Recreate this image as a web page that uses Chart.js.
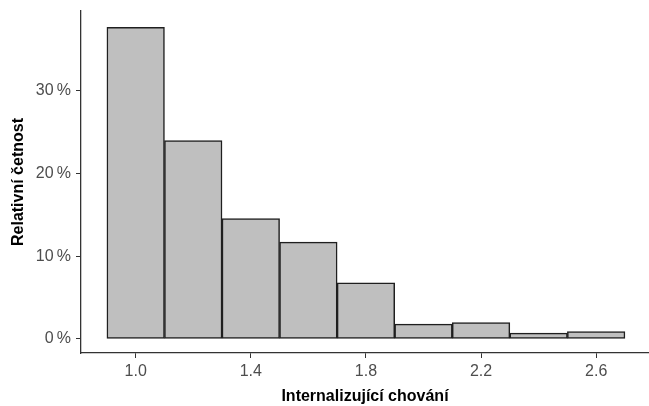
<!DOCTYPE html>
<html>
<head>
<meta charset="utf-8">
<script src="https://cdn.jsdelivr.net/npm/chart.js@4"></script>
<style>
	body { margin: 0; background: #fff; }
	#wrap { width: 649px; height: 406px; position: relative; }
</style>
</head>
<body>
<div id="wrap"><canvas id="hist"></canvas></div>
<script>
// Histogram bins (width 0.2) and relative frequency in percent.
const binCenters = [ 1.0, 1.2, 1.4, 1.6, 1.8, 2.0, 2.2, 2.4, 2.6 ];
const relFreq = [ 37.7, 24.0, 14.55, 11.7, 6.8, 1.8, 1.97, 0.7, 0.88 ];
const xTicks = [ 1.0, 1.4, 1.8, 2.2, 2.6 ];
const yTicks = [ 0, 10, 20, 30 ];

const font = "'Liberation Sans', Arial, sans-serif";

const ctx = document.getElementById( 'hist' );

new Chart( ctx, {
	type: 'bar',
	data: {
		datasets: [
			{
				data: binCenters.map( ( x, i ) => {
					return { x: x, y: relFreq[ i ] };
				} ),
				backgroundColor: '#bfbfbf',
				borderColor: '#1f1f1f',
				borderWidth: 1.5,
				borderSkipped: false,
				barPercentage: 1,
				categoryPercentage: 1,
			}
		],
	},
	options: {
		responsive: true,
		maintainAspectRatio: false,
		animation: false,
		layout: {
			padding: { top: 11, right: 0, left: 0, bottom: 0 },
		},
		plugins: {
			legend: { display: false },
			tooltip: { enabled: false },
		},
		scales: {
			x: {
				type: 'linear',
				min: 0.81,
				max: 2.7836,
				offset: false,
				afterBuildTicks: ( scale ) => {
					scale.ticks = xTicks.map( ( v ) => ( { value: v } ) );
				},
				afterFit: ( scale ) => {
					scale.height = 53;
					scale.paddingLeft = 0;
					scale.paddingRight = 0;
				},
				ticks: {
					font: { family: font, size: 16 },
					color: '#4d4d4d',
					padding: 4,
					callback: ( v ) => Number( v ).toFixed( 1 ),
				},
				grid: {
					offset: false,
					drawOnChartArea: false,
					drawTicks: true,
					tickLength: 5,
					tickColor: '#333',
				},
				border: { color: '#333', width: 1.3 },
				title: {
					display: true,
					text: 'Internalizující chování',
					font: { family: font, size: 16, weight: 'bold' },
					color: '#000',
					padding: { top: 0, bottom: 0 },
				},
			},
			y: {
				min: -1.7,
				max: 39.66,
				afterBuildTicks: ( scale ) => {
					scale.ticks = yTicks.map( ( v ) => ( { value: v } ) );
				},
				afterFit: ( scale ) => {
					scale.width = 81;
					scale.paddingTop = 0;
					scale.paddingBottom = 0;
				},
				ticks: {
					font: { family: font, size: 16 },
					color: '#4d4d4d',
					padding: 5,
					callback: ( v ) => v + '\u2009%',
				},
				grid: {
					drawOnChartArea: false,
					drawTicks: true,
					tickLength: 5,
					tickColor: '#333',
				},
				border: { color: '#333', width: 1.3 },
				title: {
					display: true,
					text: 'Relativní četnost',
					font: { family: font, size: 16, weight: 'bold' },
					color: '#000',
					padding: { top: 9, bottom: 0 },
				},
			},
		},
	},
} );
</script>
</body>
</html>
